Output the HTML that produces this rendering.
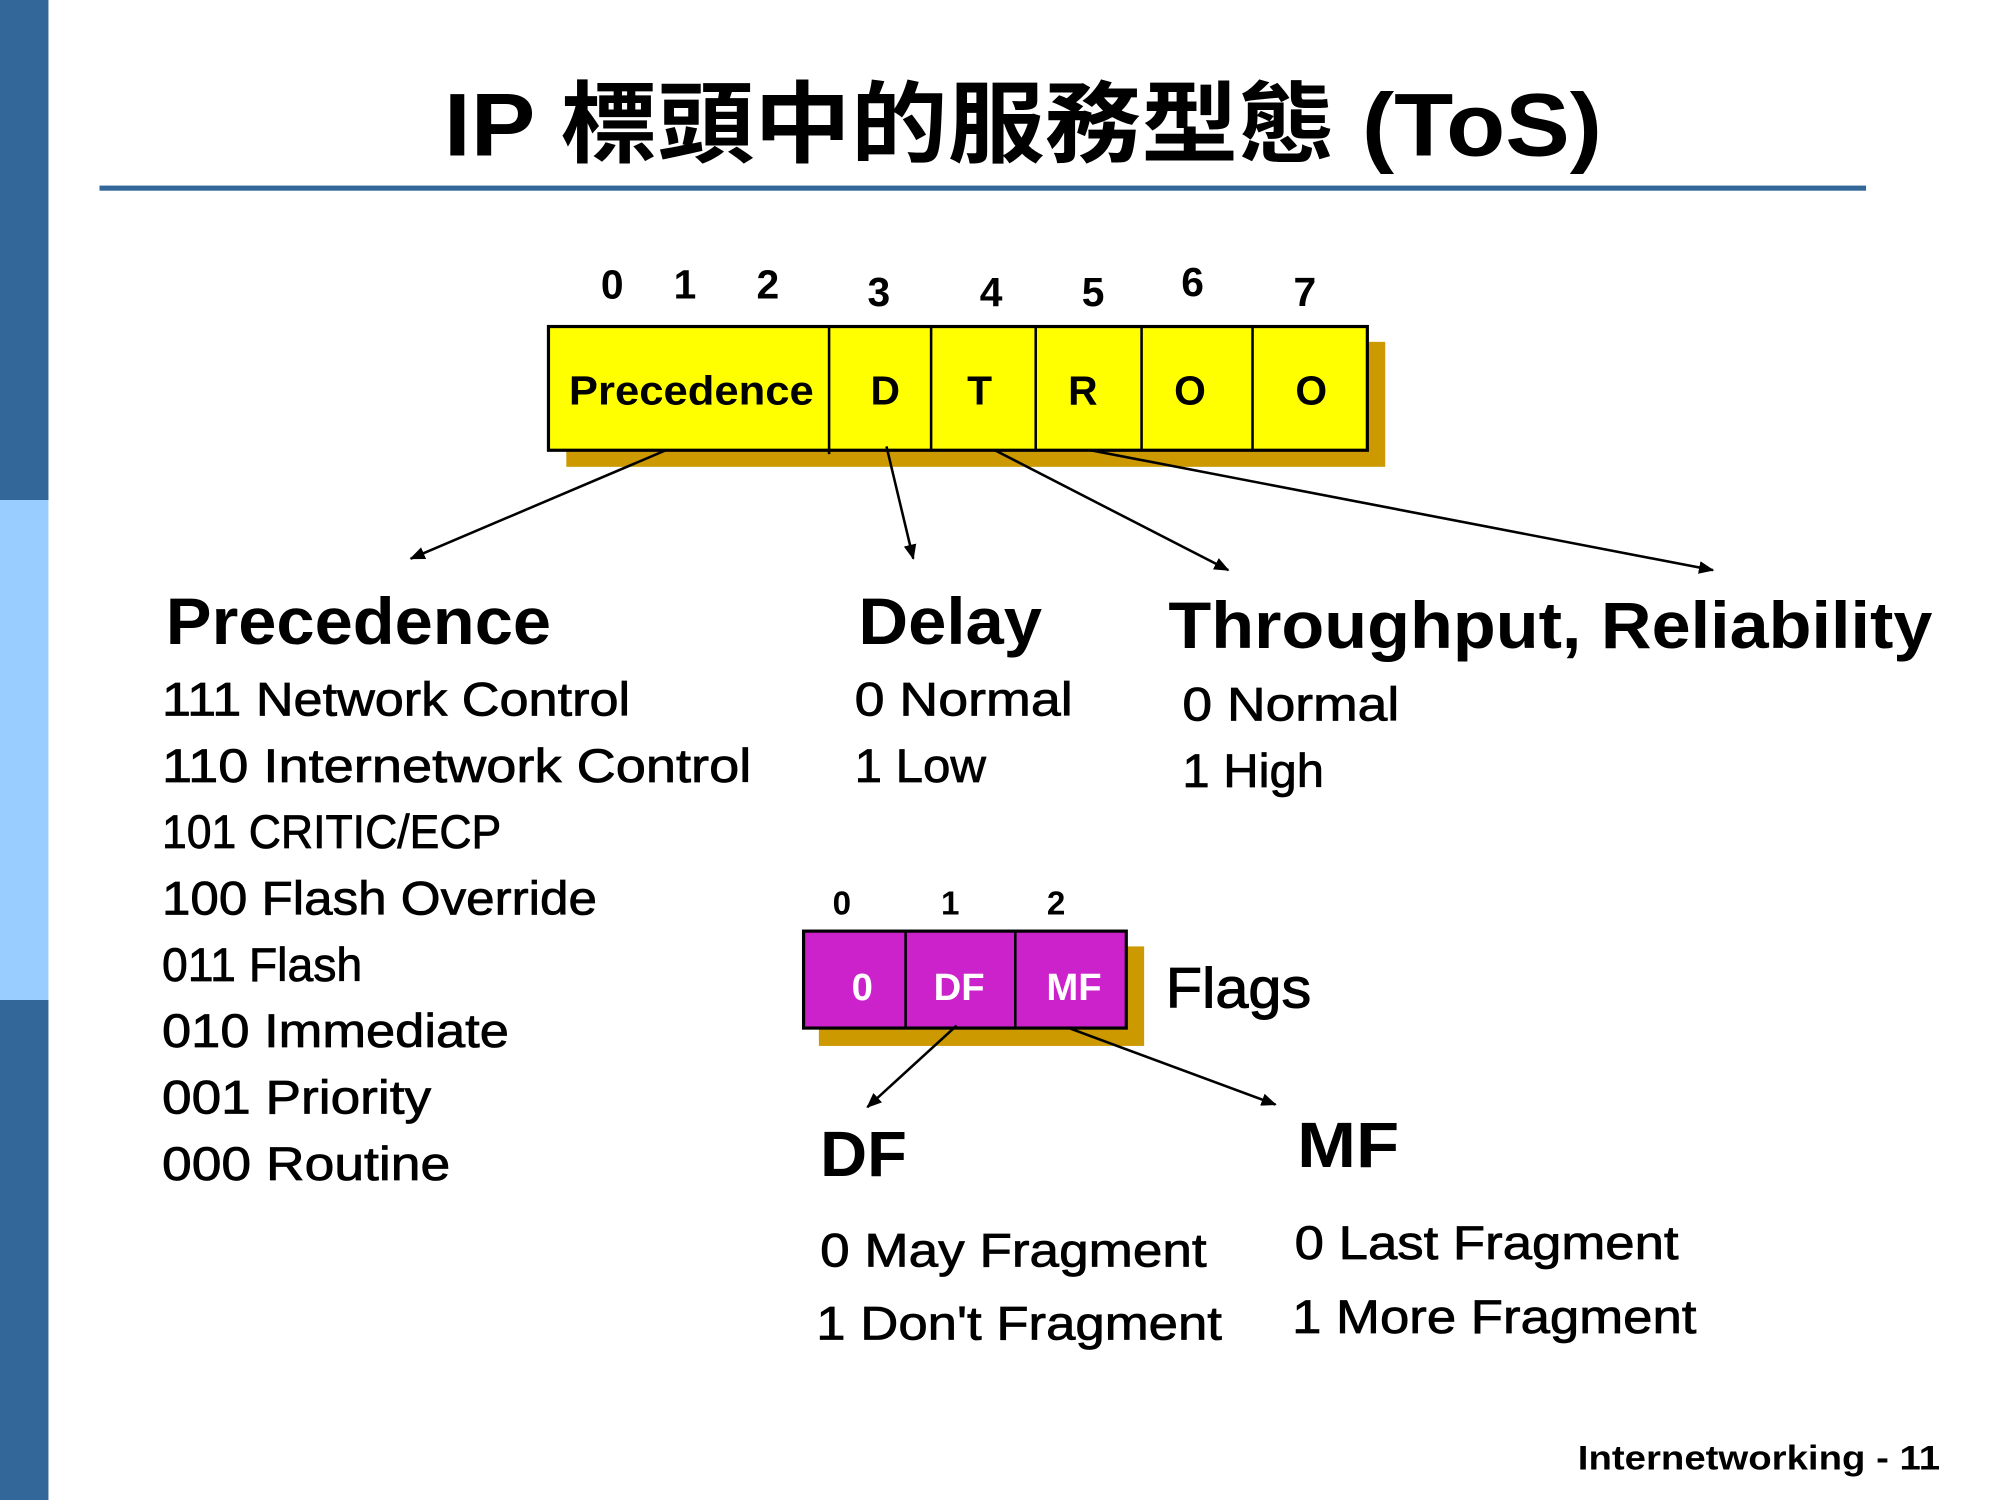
<!DOCTYPE html>
<html><head><meta charset="utf-8"><style>
html,body{margin:0;padding:0;background:#fff;}
svg{display:block;}
text{font-family:"Liberation Sans","Noto Sans CJK TC",sans-serif;}
.b{font-weight:bold;}
.l{font-size:37px;stroke:#000;stroke-width:0.6px;}
.w{fill:#fff;}
</style></head><body>
<svg width="2000" height="1500" viewBox="0 0 1568 1176" preserveAspectRatio="none" xmlns="http://www.w3.org/2000/svg">
<defs><marker id="a" markerWidth="12" markerHeight="10" refX="11" refY="5" orient="auto" markerUnits="userSpaceOnUse"><path d="M0,0 L12,5 L0,10 z" fill="#000"/></marker></defs>
<rect x="0" y="0" width="38" height="392" fill="#336699"/>
<rect x="0" y="392" width="38" height="392" fill="#99ccff"/>
<rect x="0" y="784" width="38" height="392" fill="#336699"/>
<text x="348" y="122" class="b" font-size="70" textLength="908" lengthAdjust="spacingAndGlyphs">IP 標頭中的服務型態 (ToS)</text>
<rect x="78" y="145.5" width="1385" height="4" fill="#336699"/>
<g class="b" font-size="32" text-anchor="middle">
<text x="480" y="234">0</text><text x="537" y="234">1</text><text x="602" y="234">2</text><text x="689" y="240">3</text><text x="777" y="240">4</text><text x="857" y="240">5</text><text x="935" y="232">6</text><text x="1023" y="240">7</text>
</g>
<rect x="444" y="268" width="642" height="98" fill="#cc9900"/>
<rect x="430" y="256" width="642" height="97" fill="#ffff00" stroke="#000" stroke-width="2.5"/>
<g stroke="#000" stroke-width="2"><line x1="650" y1="256" x2="650" y2="356"/><line x1="730" y1="256" x2="730" y2="353"/><line x1="812" y1="256" x2="812" y2="353"/><line x1="895" y1="256" x2="895" y2="353"/><line x1="982" y1="256" x2="982" y2="353"/></g>
<text x="446" y="317" class="b" font-size="32" textLength="192" lengthAdjust="spacingAndGlyphs">Precedence</text>
<g class="b" font-size="32" text-anchor="middle"><text x="694" y="317">D</text><text x="768" y="317">T</text><text x="849" y="317">R</text><text x="933" y="317">O</text><text x="1028" y="317">O</text></g>
<g stroke="#000" stroke-width="2" marker-end="url(#a)"><line x1="522" y1="353" x2="322" y2="438"/><line x1="695" y1="350" x2="716" y2="438"/><line x1="780" y1="353" x2="963" y2="447"/><line x1="855" y1="353" x2="1343" y2="447"/></g>
<g class="b" font-size="52">
<text x="130" y="505" textLength="302" lengthAdjust="spacingAndGlyphs">Precedence</text>
<text x="673" y="505" textLength="144" lengthAdjust="spacingAndGlyphs">Delay</text>
<text x="916" y="508" textLength="599" lengthAdjust="spacingAndGlyphs">Throughput, Reliability</text>
</g>
<g class="l">
<text x="127" y="561" textLength="367" lengthAdjust="spacingAndGlyphs">111 Network Control</text>
<text x="127" y="613" textLength="462" lengthAdjust="spacingAndGlyphs">110 Internetwork Control</text>
<text x="127" y="665" textLength="266" lengthAdjust="spacingAndGlyphs">101 CRITIC/ECP</text>
<text x="127" y="717" textLength="341" lengthAdjust="spacingAndGlyphs">100 Flash Override</text>
<text x="127" y="769" textLength="157" lengthAdjust="spacingAndGlyphs">011 Flash</text>
<text x="127" y="821" textLength="272" lengthAdjust="spacingAndGlyphs">010 Immediate</text>
<text x="127" y="873" textLength="211" lengthAdjust="spacingAndGlyphs">001 Priority</text>
<text x="127" y="925" textLength="226" lengthAdjust="spacingAndGlyphs">000 Routine</text>
<text x="670" y="561" textLength="171" lengthAdjust="spacingAndGlyphs">0 Normal</text>
<text x="670" y="613" textLength="103" lengthAdjust="spacingAndGlyphs">1 Low</text>
<text x="927" y="565" textLength="170" lengthAdjust="spacingAndGlyphs">0 Normal</text>
<text x="927" y="617" textLength="111" lengthAdjust="spacingAndGlyphs">1 High</text>
<text x="643" y="993" textLength="303" lengthAdjust="spacingAndGlyphs">0 May Fragment</text>
<text x="640" y="1050" textLength="318" lengthAdjust="spacingAndGlyphs">1 Don't Fragment</text>
<text x="1015" y="987" textLength="301" lengthAdjust="spacingAndGlyphs">0 Last Fragment</text>
<text x="1013" y="1045" textLength="317" lengthAdjust="spacingAndGlyphs">1 More Fragment</text>
</g>
<g class="b" font-size="26" text-anchor="middle"><text x="660" y="717">0</text><text x="745" y="717">1</text><text x="828" y="717">2</text></g>
<rect x="642" y="742" width="255" height="78" fill="#cc9900"/>
<rect x="630" y="730" width="253" height="76" fill="#cc22cc" stroke="#000" stroke-width="2.5"/>
<g stroke="#000" stroke-width="2"><line x1="710" y1="730" x2="710" y2="806"/><line x1="796" y1="730" x2="796" y2="806"/></g>
<g class="b w" font-size="30" text-anchor="middle"><text class="w" x="676" y="784">0</text><text class="w" x="752" y="784">DF</text><text class="w" x="842" y="784">MF</text></g>
<text x="914" y="790" font-size="44" textLength="114" lengthAdjust="spacingAndGlyphs" style="stroke:#000;stroke-width:0.8px">Flags</text>
<g stroke="#000" stroke-width="2" marker-end="url(#a)"><line x1="750" y1="804" x2="680" y2="868"/><line x1="838" y1="806" x2="1000" y2="866"/></g>
<text x="643" y="922" class="b" font-size="50" textLength="68" lengthAdjust="spacingAndGlyphs">DF</text>
<text x="1017" y="915" class="b" font-size="50" textLength="80" lengthAdjust="spacingAndGlyphs">MF</text>
<text x="1521" y="1152" class="b" font-size="27" text-anchor="end" textLength="284" lengthAdjust="spacingAndGlyphs">Internetworking - 11</text>
</svg>
</body></html>
